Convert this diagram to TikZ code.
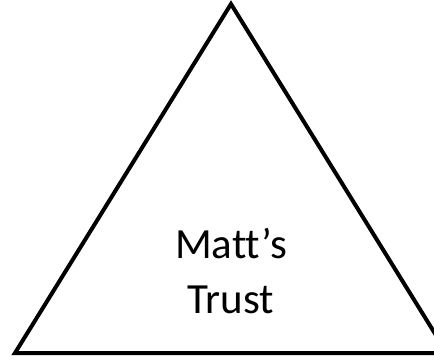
\documentclass[tikz,border=0pt]{standalone}
\usepackage{fontspec}
\setmainfont[Ligatures=NoCommon]{Carlito}
\begin{document}
\begin{tikzpicture}[x=1pt,y=1pt]
	\tikzset{edge/.style={line width=4pt, line join=miter},
		label/.style={align=center, inner sep=0pt, font=\fontsize{43}{55}\selectfont}}
	\useasboundingbox (0,0) rectangle (434,360);
	\clip (0,0) rectangle (434,360);
	
	% Dreieck
	\coordinate (top) at (231,356);
	\coordinate (left) at (15,7);
	\coordinate (right) at (447,7);
	\draw[edge] (left) -- (top) -- (right) -- cycle;
	
	\node[label] (trust) at (231,89) {Matt’s\\Trust};
\end{tikzpicture}
\end{document}
